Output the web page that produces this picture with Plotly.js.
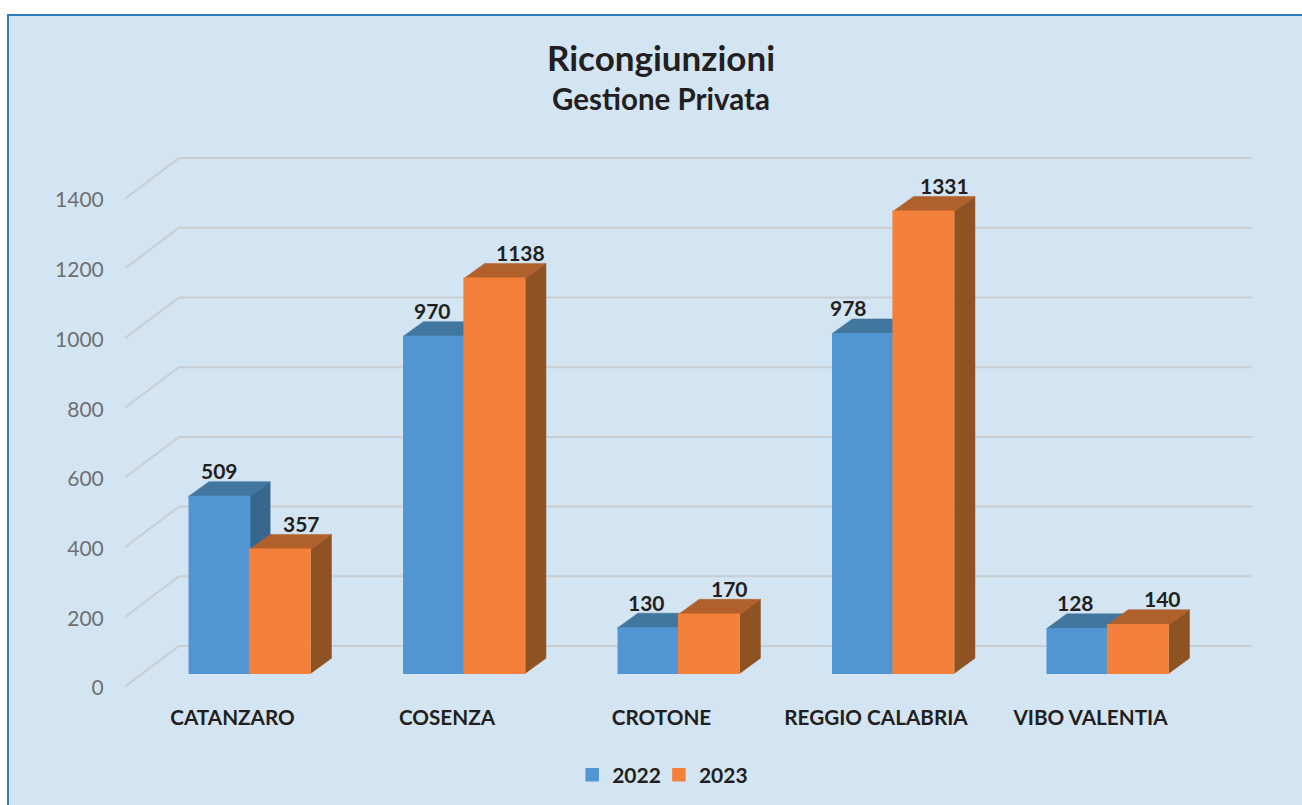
<!DOCTYPE html>
<html>
<head>
<meta charset="utf-8">
<script src="https://cdn.plot.ly/plotly-3.0.1.min.js"></script>
<style>
html,body{margin:0;padding:0;background:#fff;overflow:hidden}
#frame{position:absolute;left:7px;top:14px;width:1295px;height:791px;box-sizing:border-box;background:#D3E5F3;border-left:2.5px solid #2E7DC1;border-top:2.5px solid #2E7DC1}
#chart{position:absolute;left:0;top:0;width:1302px;height:805px}
</style>
</head>
<body>
<div id="frame"></div>
<div id="chart"></div>
<script>
const categories = ["CATANZARO", "COSENZA", "CROTONE", "REGGIO CALABRIA", "VIBO VALENTIA"];
const values2022 = [509, 970, 130, 978, 128];
const values2023 = [357, 1138, 170, 1331, 140];
const yTicks = [0, 200, 400, 600, 800, 1000, 1200, 1400];

const labelNudge2022 = [0, -1, -2, -14, -1];
const labelNudge2023 = [21, 26, 20, 21, 24];

const FONT = "Lato, Carlito, sans-serif";
const INK = "#231F20";
const BLUE = "#5196D2", BLUE_TOP = "#41769F", BLUE_SIDE = "#38678E";
const ORANGE = "#F4813B", ORANGE_TOP = "#B0602B", ORANGE_SIDE = "#8E5223";

// scale helpers: the three y axes share nearly one scale, offset to give the depth planes
const xIdx = categories.map((_, i) => i);
const barShift = 0.08, barW = 0.2858, depthX = 0.0956, depthY = 43;
const wallX = 0.2517, wallY = 116.5, wallLift = 4, xMin = -0.5012, xMax = 4.753;
const barX = xIdx.map(i => i + barShift);
const yRangeWall = [-5.8, 1543.7], yRangeBars = [-48.4, 1507.8];

function poly(points) { return { xs: points.map(p => p[0]).concat(null), ys: points.map(p => p[1]).concat(null) }; }
function facets(values, leftFn, color, kind) {
  const xs = [], ys = [];
  values.forEach((v, i) => {
    const L = leftFn(i), R = L + barW;
    const pts = kind === "top"
      ? [[L, v], [L + depthX, v + depthY], [R + depthX, v + depthY], [R, v], [L, v]]
      : [[R, 0], [R + depthX, depthY], [R + depthX, v + depthY], [R, v], [R, 0]];
    const q = poly(pts); xs.push(...q.xs); ys.push(...q.ys);
  });
  return { x: xs, y: ys, type: "scatter", mode: "lines", fill: "toself", fillcolor: color,
           line: { color: color, width: 0.5 }, yaxis: "y2", showlegend: false, hoverinfo: "skip" };
}
const left22 = i => barX[i] - barW, left23 = i => barX[i];

// back wall gridlines and left wall diagonals
const gx = [], gy = [];
yTicks.forEach(t => { gx.push(xMin, xMin + wallX, xMax, null); gy.push(t + wallLift, t + wallLift + wallY, t + wallLift + wallY, null); });
const grid = { x: gx, y: gy, type: "scatter", mode: "lines", line: { color: "#C9CED2", width: 2 },
               showlegend: false, hoverinfo: "skip", cliponaxis: false };

const barEdge = 1.5;
const traces = [
  grid,
  facets(values2022, left22, BLUE_SIDE, "side"),
  facets(values2022, left22, BLUE_TOP, "top"),
  facets(values2023, left23, ORANGE_SIDE, "side"),
  facets(values2023, left23, ORANGE_TOP, "top"),
  { x: barX, y: values2022, name: "2022", type: "bar", marker: { color: BLUE, line: { color: BLUE, width: barEdge } }, yaxis: "y3" },
  { x: barX, y: values2023, name: "2023", type: "bar", marker: { color: ORANGE, line: { color: ORANGE, width: barEdge } }, yaxis: "y3" }
];

function label(v, x, nudge) {
  return { x: x, y: v, xref: "x", yref: "y3", text: "<b>" + v + "</b>", showarrow: false,
           xanchor: "center", yanchor: "middle", xshift: nudge, yshift: 26,
           font: { family: FONT, size: 21, color: INK } };
}
const annotations = [];
values2022.forEach((v, i) => annotations.push(label(v, barX[i] - barW / 2, labelNudge2022[i])));
values2023.forEach((v, i) => annotations.push(label(v, barX[i] + barW / 2, labelNudge2023[i])));
annotations.push({ xref: "paper", yref: "paper", x: 0.4756, y: 1.095, text: "<b>Gestione Privata</b>",
                   showarrow: false, xanchor: "center", yanchor: "middle",
                   font: { family: FONT, size: 29.5, color: INK } });

const hiddenY = r => ({ range: r, overlaying: "y", showgrid: false, zeroline: false, showticklabels: false, showline: false, ticks: "", fixedrange: true });

const layout = {
  width: 1302, height: 805,
  paper_bgcolor: "rgba(0,0,0,0)", plot_bgcolor: "rgba(0,0,0,0)",
  margin: { l: 125, r: 50, t: 150, b: 115, pad: 0 },
  title: { text: "<b>Ricongiunzioni</b>", x: 661 / 1302, xanchor: "center", xref: "container",
           y: 1 - 59 / 805, yanchor: "middle", yref: "container",
           font: { family: FONT, size: 35, color: INK } },
  barmode: "group", bargap: 0.437, bargroupgap: 0,
  xaxis: { range: [xMin, xMax], tickmode: "array", tickvals: xIdx, ticktext: categories,
           showgrid: false, zeroline: false, showline: false, ticks: "outside", ticklen: 9,
           tickcolor: "rgba(0,0,0,0)", tickfont: { family: FONT, size: 20.7, color: INK, weight: 700 }, fixedrange: true },
  yaxis: { range: yRangeWall, tickmode: "array", tickvals: yTicks, showgrid: false, zeroline: false, showline: false,
           ticks: "outside", ticklen: 16, tickcolor: "rgba(0,0,0,0)",
           tickfont: { family: FONT, size: 21, color: "#707070" }, fixedrange: true },
  yaxis2: hiddenY(yRangeBars),
  yaxis3: hiddenY(yRangeBars),
  legend: { orientation: "h", x: 0.4802, xanchor: "center", y: 1 - 775 / 805, yanchor: "middle", yref: "container", indentation: -7,
            font: { family: FONT, size: 21, color: INK, weight: 700 }, bgcolor: "rgba(0,0,0,0)", traceorder: "normal" },
  annotations: annotations,
  showlegend: true
};
Plotly.newPlot("chart", traces, layout, { displayModeBar: false, responsive: false });
</script>
</body>
</html>
